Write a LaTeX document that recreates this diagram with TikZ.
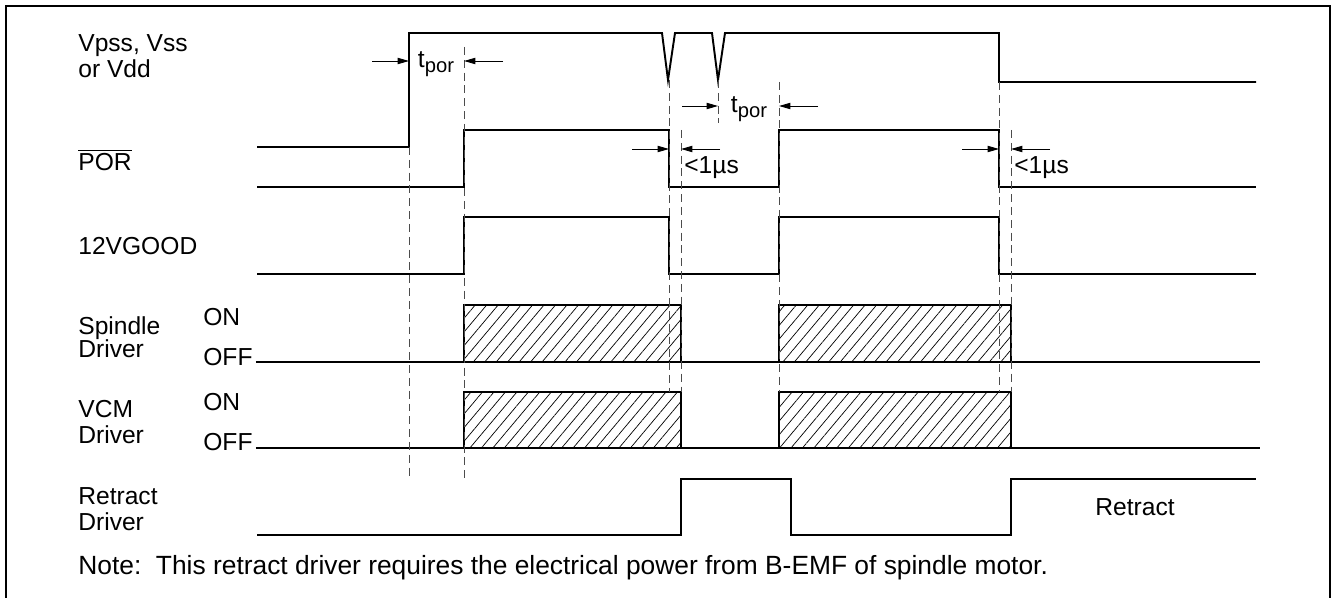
\documentclass[tikz,border=0pt]{standalone}
\usepackage{fontspec}
\setmainfont{Liberation Sans}
\usetikzlibrary{arrows.meta, patterns.meta}

\begin{document}
\begin{tikzpicture}[x=0.02cm, y=-0.02cm,
    signal/.style={line width=1.1pt, line join=miter},
    guide/.style={gray!60!black, line width=0.5pt, dash pattern=on 4.5pt off 2.8pt},
    dimarrow/.style={-{Triangle[length=6.5pt, width=3.6pt]}, line width=0.5pt},
    lbl/.style={anchor=west, align=left, inner sep=0pt, font=\fontsize{14}{14.5}\selectfont},
    hatched/.style={signal, pattern={Lines[angle=50, distance=5pt, line width=0.4pt]}}]
    \useasboundingbox (0,0) rectangle (1336,598);
    % frame, open at the bottom
    \draw[line width=1.1pt] (6,598) -- (6,6) -- (1330,6) -- (1330,598);

    % signal labels
    \node[lbl] (vpss) at (78,56) {Vpss, Vss\\or Vdd};
    \node[lbl] (por) at (78,160) {$\overline{\mbox{POR}}$};
    \node[lbl] (good) at (78,246) {12VGOOD};
    \node[lbl] (spindle) at (78,337) {Spindle\\[-1.5pt]Driver};
    \node[lbl] (spon) at (203,317) {ON};
    \node[lbl] (spoff) at (203,357) {OFF};
    \node[lbl] (vcm) at (78,422) {VCM\\Driver};
    \node[lbl] (vcmon) at (203,402) {ON};
    \node[lbl] (vcmoff) at (203,442) {OFF};
    \node[lbl] (retract) at (78,509) {Retract\\Driver};
    \node[lbl] (retractlvl) at (1095,507) {Retract};
    \node[lbl, font=\fontsize{15}{16}\selectfont] (note) at (78,568) {Note:\ \ This retract driver requires the electrical power from B-EMF of spindle motor.};

    % waveforms
    \draw[signal] (257,147) -- (409,147) -- (409,33) -- (662,33) -- (668,80) -- (675,33) -- (712,33) -- (718,80) -- (725,33) -- (999,33) -- (999,82) -- (1256,82);
    \draw[signal] (257,187) -- (464,187) -- (464,130) -- (669,130) -- (669,187) -- (779,187) -- (779,130) -- (999,130) -- (999,187) -- (1256,187);
    \draw[signal] (257,274) -- (464,274) -- (464,217) -- (669,217) -- (669,274) -- (779,274) -- (779,217) -- (999,217) -- (999,274) -- (1256,274);
    \draw[signal] (spoff.east) ++(3,5) -- (1260,362);
    \draw[hatched] (464,362) rectangle (681,305);
    \draw[hatched] (779,362) rectangle (1011,305);
    \draw[signal] (vcmoff.east) ++(3,6) -- (1260,448);
    \draw[hatched] (464,448) rectangle (681,392);
    \draw[hatched] (779,448) rectangle (1011,392);
    \draw[signal] (257,535) -- (681,535) -- (681,479) -- (791,479) -- (791,535) -- (1011,535) -- (1011,479) -- (1256,479);

    % dashed guides
    \draw[guide] (409,147) -- (409,478);
    \draw[guide] (464,47) -- (464,478);
    \draw[guide] (669,80) -- (669,392);
    \draw[guide] (681,130) -- (681,392);
    \draw[guide] (718,80) -- (718,123);
    \draw[guide] (779,82) -- (779,392);
    \draw[guide] (999,82) -- (999,392);
    \draw[guide] (1011,130) -- (1011,392);

    % timing marks
    \draw[dimarrow] (372,61) -- (409,61);
    \draw[dimarrow] (503,61) -- (464,61);
    \node[lbl, anchor=center] (tpor1) at (436,64) {t\raisebox{-0.35ex}{\fontsize{11.5}{12}\selectfont por}};
    \draw[dimarrow] (682,106) -- (718,106);
    \draw[dimarrow] (818,106) -- (779,106);
    \node[lbl, anchor=center] (tpor2) at (749,109) {t\raisebox{-0.35ex}{\fontsize{11.5}{12}\selectfont por}};
    \draw[dimarrow] (632,149) -- (669,149);
    \draw[dimarrow] (720,149) -- (681,149);
    \node[lbl] (short1) at (684,168) {<1µs};
    \draw[dimarrow] (962,149) -- (999,149);
    \draw[dimarrow] (1050,149) -- (1011,149);
    \node[lbl] (short2) at (1014,168) {<1µs};
\end{tikzpicture}
\end{document}
